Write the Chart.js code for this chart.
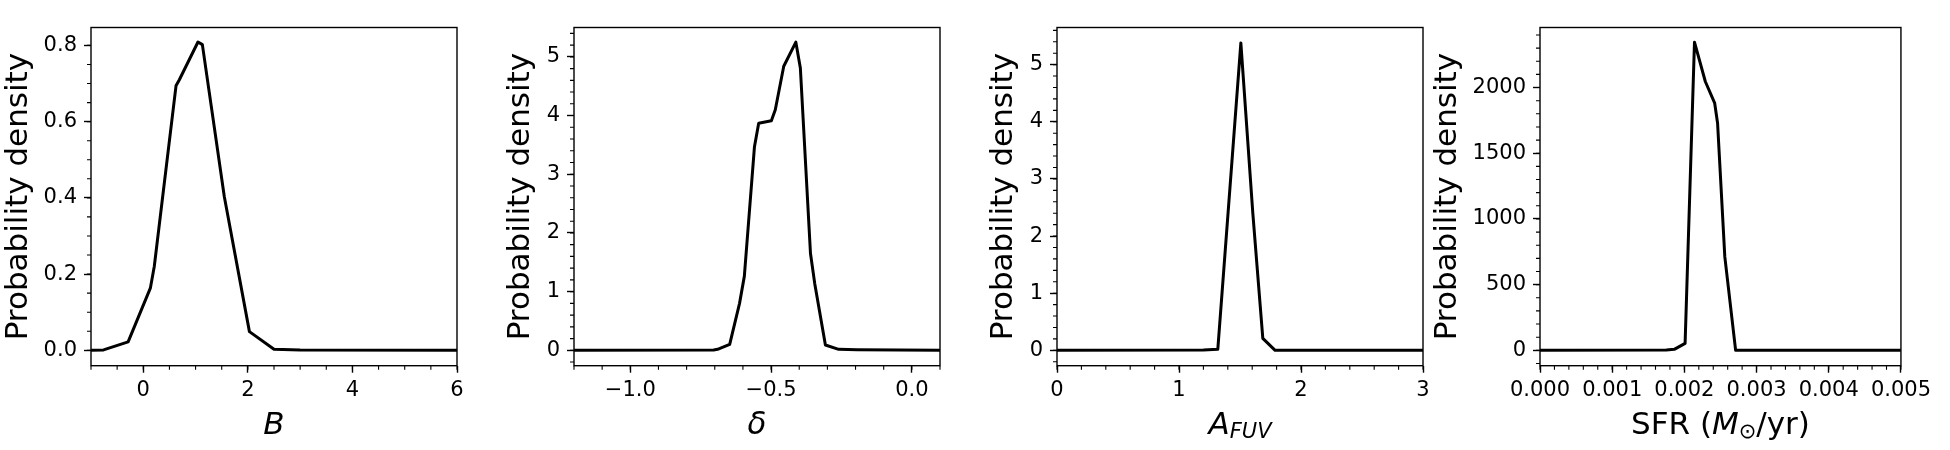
<!DOCTYPE html>
<html>
<head>
<meta charset="utf-8">
<script src="https://cdn.jsdelivr.net/npm/chart.js@4.4.0/dist/chart.umd.min.js"></script>
<style>
  body { margin: 0; background: #fff; }
  #wrap { position: relative; width: 1950px; height: 450px; }
  .panel { position: absolute; top: 0; height: 450px; }
</style>
</head>
<body>
<div id="wrap"></div>
<script>
// panel 1: B
const bX = [-1, -0.76, -0.29, 0.135, 0.21, 0.626, 0.69, 1.046, 1.13, 1.55, 2.03, 2.5, 3.0, 6];
const bY = [0, 0.001, 0.022, 0.163, 0.22, 0.694, 0.71, 0.809, 0.802, 0.403, 0.049, 0.003, 0.001, 0];
const bTicksX = [0, 2, 4, 6];
const bTicksY = [0, 0.2, 0.4, 0.6, 0.8];

// panel 2: delta
const deltaX = [-1.2, -0.704, -0.69, -0.647, -0.612, -0.595, -0.559, -0.544, -0.499, -0.485, -0.455, -0.412, -0.396, -0.36, -0.345, -0.307, -0.26, -0.194, 0.1];
const deltaY = [0, 0.006, 0.017, 0.10, 0.80, 1.26, 3.47, 3.87, 3.91, 4.10, 4.84, 5.25, 4.81, 1.65, 1.14, 0.09, 0.017, 0.011, 0];
const deltaTicksX = [-1.0, -0.5, 0.0];
const deltaTicksY = [0, 1, 2, 3, 4, 5];

// panel 3: A_FUV
const afuvX = [0, 1.2, 1.318, 1.507, 1.605, 1.687, 1.788, 3];
const afuvY = [0, 0.006, 0.017, 5.38, 2.4, 0.21, 0, 0];
const afuvTicksX = [0, 1, 2, 3];
const afuvTicksY = [0, 1, 2, 3, 4, 5];

// panel 4: SFR
const sfrX = [0, 0.00175, 0.00186, 0.00201, 0.00214, 0.00229, 0.00242, 0.00246, 0.00256, 0.00271, 0.005];
const sfrY = [0, 2.5, 7.6, 53, 2345, 2046, 1881, 1728, 713, 0, 0];
const sfrTicksX = [0, 0.001, 0.002, 0.003, 0.004, 0.005];
const sfrTicksY = [0, 500, 1000, 1500, 2000];

const FONT = "'DejaVu Sans', sans-serif";

const panels = [
  { xs: bX, ys: bY, tx: bTicksX, ty: bTicksY, xMin: -1, xMax: 6, yMin: -0.0404, yMax: 0.847,
    xMinor: 0.5, yMinor: 0.05, xDec: 0, yDec: 1, left: 0, yW: 91,
    label: [{ t: 'B', it: true }] },
  { xs: deltaX, ys: deltaY, tx: deltaTicksX, ty: deltaTicksY, xMin: -1.2, xMax: 0.1, yMin: -0.262, yMax: 5.5,
    xMinor: 0.1, yMinor: 0.2, xDec: 1, yDec: 0, left: 502, yW: 72,
    label: [{ t: 'δ', it: true }] },
  { xs: afuvX, ys: afuvY, tx: afuvTicksX, ty: afuvTicksY, xMin: 0, xMax: 3, yMin: -0.269, yMax: 5.65,
    xMinor: 0.2, yMinor: 0.2, xDec: 0, yDec: 0, left: 985, yW: 72,
    label: [{ t: 'A', it: true }, { t: 'FUV', it: true, sub: true }] },
  { xs: sfrX, ys: sfrY, tx: sfrTicksX, ty: sfrTicksY, xMin: 0, xMax: 0.005, yMin: -117, yMax: 2457,
    xMinor: 0.0002, yMinor: 100, xDec: 3, yDec: 0, left: 1429, yW: 111,
    label: [{ t: 'SFR (' }, { t: 'M', it: true }, { t: '⊙', sub: true }, { t: '/yr)' }] }
];

const PLOT_W = 366;
const PLOT_TOP = 27.5;
const PLOT_BOTTOM = 365.7;

function fmt(v, dec) {
  return v.toFixed(dec).replace('-', '\u2212');
}

function decoPlugin(p) {
  return {
    id: 'deco',
    afterDraw(chart) {
      const ctx = chart.ctx;
      const a = chart.chartArea;
      const xs = chart.scales.x, ys = chart.scales.y;
      ctx.save();
      ctx.strokeStyle = '#000';
      ctx.lineWidth = 1.4;
      ctx.strokeRect(a.left, a.top, a.right - a.left, a.bottom - a.top);

      // minor ticks
      ctx.lineWidth = 1.1;
      ctx.beginPath();
      for (let k = Math.ceil(p.xMin / p.xMinor - 1e-6); k * p.xMinor <= p.xMax + 1e-9; k++) {
        const px = xs.getPixelForValue(k * p.xMinor);
        ctx.moveTo(px, a.bottom);
        ctx.lineTo(px, a.bottom + 4);
      }
      for (let k = Math.ceil(p.yMin / p.yMinor - 1e-6); k * p.yMinor <= p.yMax + 1e-9; k++) {
        const py = ys.getPixelForValue(k * p.yMinor);
        ctx.moveTo(a.left, py);
        ctx.lineTo(a.left - 4, py);
      }
      ctx.stroke();

      // x axis label with mixed styles
      const size = 31, subSize = 21, base = 433.5;
      const font = s => (s.it ? 'italic ' : '') + (s.sub ? subSize : size) + 'px ' + FONT;
      let total = 0;
      p.label.forEach(s => { ctx.font = font(s); total += ctx.measureText(s.t).width; });
      let x = (a.left + a.right) / 2 - total / 2;
      ctx.fillStyle = '#000';
      ctx.textBaseline = 'alphabetic';
      ctx.textAlign = 'left';
      p.label.forEach(s => {
        ctx.font = font(s);
        ctx.fillText(s.t, x, base + (s.sub ? 4 : 0));
        x += ctx.measureText(s.t).width;
      });
      ctx.restore();
    }
  };
}

const wrap = document.getElementById('wrap');
panels.forEach(p => {
  const div = document.createElement('div');
  div.className = 'panel';
  div.style.left = p.left + 'px';
  div.style.width = (p.yW + PLOT_W + 30) + 'px';
  const canvas = document.createElement('canvas');
  div.appendChild(canvas);
  wrap.appendChild(div);

  new Chart(canvas, {
    type: 'scatter',
    data: {
      datasets: [{
        data: p.xs.map((v, i) => ({ x: v, y: p.ys[i] })),
        showLine: true,
        borderColor: '#000',
        borderWidth: 3,
        borderJoinStyle: 'round',
        pointRadius: 0,
        tension: 0
      }]
    },
    options: {
      responsive: true,
      maintainAspectRatio: false,
      animation: false,
      layout: { padding: { top: PLOT_TOP, right: 30, bottom: 0, left: 0 } },
      plugins: { legend: { display: false }, tooltip: { enabled: false } },
      scales: {
        x: {
          type: 'linear',
          min: p.xMin,
          max: p.xMax,
          afterBuildTicks: s => { s.ticks = p.tx.map(v => ({ value: v })); },
          afterFit: s => { s.height = 450 - PLOT_BOTTOM; },
          grid: { drawOnChartArea: false, drawTicks: true, tickLength: 7, tickWidth: 1.4, tickColor: '#000' },
          border: { display: false },
          ticks: {
            autoSkip: false, maxRotation: 0, minRotation: 0, padding: 5,
            color: '#000', font: { family: FONT, size: 21 },
            callback: v => fmt(v, p.xDec)
          }
        },
        y: {
          type: 'linear',
          min: p.yMin,
          max: p.yMax,
          afterBuildTicks: s => { s.ticks = p.ty.map(v => ({ value: v })); },
          afterFit: s => { s.width = p.yW; },
          grid: { drawOnChartArea: false, drawTicks: true, tickLength: 7, tickWidth: 1.4, tickColor: '#000' },
          border: { display: false },
          title: { display: true, text: 'Probability density', color: '#000', padding: 0, font: { family: FONT, size: 31 } },
          ticks: {
            padding: 7, color: '#000', font: { family: FONT, size: 21 },
            callback: v => fmt(v, p.yDec)
          }
        }
      }
    },
    plugins: [decoPlugin(p)]
  });
});
</script>
</body>
</html>
